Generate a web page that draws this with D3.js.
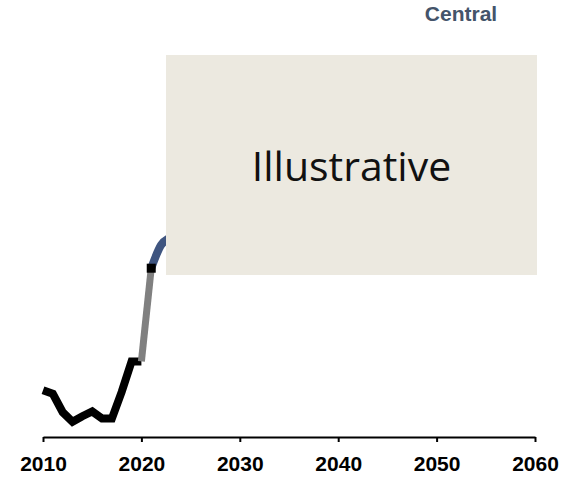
<!DOCTYPE html>
<html>
<head>
<meta charset="utf-8">
<script src="https://cdn.jsdelivr.net/npm/d3@7"></script>
<style>
  html, body { margin: 0; padding: 0; background: #fff; }
  svg { display: block; }
</style>
</head>
<body>
<svg id="chart" width="574" height="478"></svg>
<script>
// Historical series (black)
const histYears  = [2010, 2011, 2012, 2013, 2014, 2015, 2016, 2017, 2018, 2019, 2020];
const histValues = [11.7, 10.8, 6.2, 3.8, 5.2, 6.4, 4.6, 4.6, 11.3, 18.9, 18.9];

// Bridge between last actual and first projected point (grey)
const bridgeYears  = [2020, 2021];
const bridgeValues = [18.9, 42.2];

// Central projection (blue)
const centralYears  = [2021, 2022, 2023, 2025, 2030, 2035, 2040, 2045, 2050, 2055, 2060];
const centralValues = [42.2, 48.0, 50.0, 53.0, 58.0, 61.0, 63.0, 65.0, 66.0, 67.0, 68.0];

// Axis ticks
const tickYears = [2010, 2020, 2030, 2040, 2050, 2060];

const svg = d3.select("#chart");

const x = d3.scaleLinear().domain([2010, 2060]).range([43, 535]);
const y = d3.scaleLinear().domain([0, 100]).range([437, 37]);

const zip = (a, b) => a.map((v, i) => [v, b[i]]);
const straight = d3.line().x(d => x(d[0])).y(d => y(d[1]));
const smooth = d3.line().x(d => x(d[0])).y(d => y(d[1])).curve(d3.curveMonotoneX);

// Central projection
svg.append("path")
  .attr("fill", "none")
  .attr("stroke", "#3f5580")
  .attr("stroke-width", 8)
  .attr("d", smooth(zip(centralYears, centralValues)));

// Historical line
svg.append("path")
  .attr("fill", "none")
  .attr("stroke", "#000")
  .attr("stroke-width", 8)
  .attr("d", straight(zip(histYears, histValues)));

// Grey bridge
svg.append("path")
  .attr("fill", "none")
  .attr("stroke", "#808080")
  .attr("stroke-width", 7)
  .attr("d", straight(zip(bridgeYears, bridgeValues)));

// Marker at the start of the projection
const mk = 9;
svg.append("rect")
  .attr("x", x(bridgeYears[1]) - mk / 2)
  .attr("y", y(bridgeValues[1]) - mk / 2)
  .attr("width", mk)
  .attr("height", mk)
  .attr("fill", "#000");

// Overlay panel
svg.append("rect")
  .attr("x", 166).attr("y", 55)
  .attr("width", 371).attr("height", 220)
  .attr("fill", "#ece9e0");

svg.append("text")
  .attr("x", 351.5).attr("y", 181)
  .attr("text-anchor", "middle")
  .attr("font-family", "'Open Sans', sans-serif")
  .attr("font-size", 41)
  .attr("fill", "#111")
  .text("Illustrative");

// Scenario label
svg.append("text")
  .attr("x", 461).attr("y", 21)
  .attr("text-anchor", "middle")
  .attr("font-family", "'Liberation Sans', Arial, sans-serif")
  .attr("font-weight", "bold")
  .attr("font-size", 21)
  .attr("fill", "#44546a")
  .text("Central");

// X axis
const axis = d3.axisBottom(x)
  .tickValues(tickYears)
  .tickFormat(d3.format("d"))
  .tickSize(5)
  .tickSizeOuter(0)
  .tickPadding(14);

const g = svg.append("g")
  .attr("transform", "translate(0,437)")
  .call(axis);

g.select(".domain").attr("stroke", "#000").attr("stroke-width", 2);
g.selectAll(".tick line").attr("stroke", "#000").attr("stroke-width", 2);
g.selectAll(".tick text")
  .attr("fill", "#000")
  .attr("font-family", "'Liberation Sans', Arial, sans-serif")
  .attr("font-weight", "bold")
  .attr("font-size", 21);
</script>
</body>
</html>
